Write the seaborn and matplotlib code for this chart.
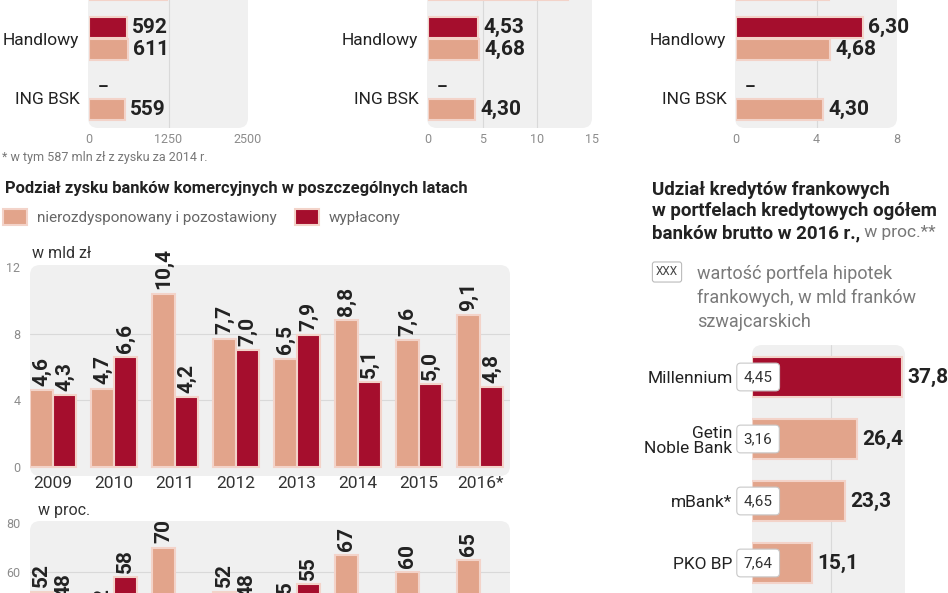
import numpy as np
import pandas as pd
import matplotlib
matplotlib.use("Agg")
import matplotlib.pyplot as plt
from matplotlib import font_manager
from matplotlib.patches import FancyBboxPatch
from matplotlib.text import Annotation
import seaborn as sns

# --- Configuration ---
W, H = 948, 593
DARK = "#a50e2d"
LIGHT = "#e2a48b"
EDGE = "#f3d3c9"
BG = "#f0f0f0"
GRID = "#d9d9d9"
TXT = "#222222"
GRAY = "#8c8c8c"

names = {f.name for f in font_manager.fontManager.ttflist}
BASE = "Roboto" if "Roboto" in names else "DejaVu Sans"

# --- Data ---
# top row: first bank is cut off by the top edge of the picture
top_banks = ["…", "Handlowy", "ING BSK"]
p1_dark = [np.nan, 592, np.nan]
p1_light = [1230, 611, 559]
p2_dark = [np.nan, 4.53, np.nan]
p2_light = [12.8, 4.68, 4.30]
p3_dark = [np.nan, 6.30, np.nan]
p3_light = [4.6, 4.68, 4.30]

years = ["2009", "2010", "2011", "2012", "2013", "2014", "2015", "2016*"]
kept_bn = [4.6, 4.7, 10.4, 7.7, 6.5, 8.8, 7.6, 9.1]
paid_bn = [4.3, 6.6, 4.2, 7.0, 7.9, 5.1, 5.0, 4.8]
kept_pct = [52, 42, 70, 52, 45, 67, 60, 65]
paid_pct = [48, 58, 30, 48, 55, 33, 40, 35]
series = ["nierozdysponowany i pozostawiony", "wypłacony"]

chf_banks = ["Millennium", "Getin\nNoble Bank", "mBank*", "PKO BP"]
chf_share = [37.8, 26.4, 23.3, 15.1]
chf_value = [4.45, 3.16, 4.65, 7.64]

sns.set_theme(style="white")
plt.rcParams["font.family"] = [BASE, "DejaVu Sans"]

fig = plt.figure(figsize=(W / 100, H / 100), dpi=100)
fig.patch.set_facecolor("white")


def px_axes(l, t, r, b):
    ax = fig.add_axes([l / W, 1 - b / H, (r - l) / W, (b - t) / H])
    ax.set_facecolor("none")
    return ax


def px_bg(l, t, r, b, rs=0.1):
    bg = FancyBboxPatch((l / 100, (H - b) / 100), (r - l) / 100, (b - t) / 100,
                        boxstyle=f"round,pad=0,rounding_size={rs}",
                        transform=fig.dpi_scale_trans, fc=BG, ec="none", zorder=-5)
    fig.add_artist(bg)


def px_text(x, y, s, **kw):
    return fig.text(x / W, 1 - y / H, s, **kw)


def comma(v, d):
    return f"{v:.{d}f}".replace(".", ",")


# --- Top row: three small horizontal bar panels ---
def top_panel(l, r, dark, light, xmax, ticks, dec):
    t, b = -10, 128
    px_bg(l - 1, -30, r, b)
    ax = px_axes(l, t, r, b)
    df = pd.DataFrame({"bank": top_banks * 2,
                       "seria": ["a"] * 3 + ["b"] * 3,
                       "value": dark + light})
    sns.barplot(data=df, y="bank", x="value", hue="seria", hue_order=["a", "b"],
                palette=[DARK, LIGHT], saturation=1, orient="h", width=0.72, ax=ax,
                legend=False, edgecolor=EDGE, linewidth=1.5)
    ax.set_xlim(0, xmax)
    ax.set_ylim(1 + (b - 38.5) / 60, 1 + (t - 38.5) / 60)
    for v in ticks[1:-1]:
        ax.axvline(v, color=GRID, lw=0.8, zorder=0)
    ax.set_xticks(ticks)
    ax.set_xticklabels([str(v) for v in ticks])
    ax.tick_params(axis="x", length=0, pad=3.5, labelsize=9, labelcolor=GRAY)
    ax.tick_params(axis="y", length=0, pad=7, labelsize=12.5, labelcolor=TXT)
    ax.set_xlabel("")
    ax.set_ylabel("")
    sns.despine(ax=ax, left=True, bottom=True)
    for cont in ax.containers:
        for bar in cont:
            w = bar.get_width()
            if not np.isfinite(w):
                continue
            ax.annotate(comma(w, dec), (w, bar.get_y() + bar.get_height() / 2),
                        xytext=(4, 0), textcoords="offset points", va="center",
                        ha="left", fontsize=15, fontweight="bold", color=TXT,
                        annotation_clip=False)
    # missing values shown as a dash
    for i, v in enumerate(dark):
        if i > 0 and not np.isfinite(v):
            ax.annotate("–", (0, i - 0.18), xytext=(6, 0), textcoords="offset points",
                        va="center", ha="left", fontsize=12, fontweight="bold", color=TXT)
    return ax


top_panel(89, 248, p1_dark, p1_light, 2500, [0, 1250, 2500], 0)
top_panel(428, 592, p2_dark, p2_light, 15, [0, 5, 10, 15], 2)
top_panel(736, 897, p3_dark, p3_light, 8, [0, 4, 8], 2)
px_text(2, 158, "* w tym 587 mln zł z zysku za 2014 r.", fontsize=9,
        color="#777777", va="center", ha="left")

# --- Middle: profit split, bn PLN ---
px_text(5, 189, "Podział zysku banków komercyjnych w poszczególnych latach",
        fontweight="bold", fontsize=11.9, color=TXT, va="center", ha="left")


def year_panel(t, b, kept, paid, y0px, ppu, ticks, dec, show_years):
    px_bg(30, t, 510, b + 6)
    ax = px_axes(30, t, 510, b)
    df = pd.DataFrame({"rok": years * 2,
                       "seria": [series[0]] * 8 + [series[1]] * 8,
                       "value": kept + paid})
    sns.barplot(data=df, x="rok", y="value", hue="seria", hue_order=series,
                palette=[LIGHT, DARK], saturation=1, width=0.75, ax=ax,
                edgecolor=EDGE, linewidth=1.5)
    ax.set_xlim((30 - 53) / 61, (510 - 53) / 61)
    ax.set_ylim(-(b - y0px) / ppu, (y0px - t) / ppu)
    for v in ticks[1:-1]:
        ax.axhline(v, color=GRID, lw=0.8, zorder=0)
    ax.set_yticks(ticks)
    ax.set_yticklabels([str(v) for v in ticks])
    ax.tick_params(axis="y", length=0, pad=7, labelsize=9, labelcolor=GRAY)
    ax.tick_params(axis="x", length=0, pad=4, labelsize=12.5, labelcolor="#333333")
    if not show_years:
        ax.set_xticklabels([])
    ax.set_xlabel("")
    ax.set_ylabel("")
    sns.despine(ax=ax, left=True, bottom=True)
    for cont in ax.containers:
        for bar in cont:
            h = bar.get_height()
            ax.annotate(comma(h, dec), (bar.get_x() + bar.get_width() / 2, h),
                        xytext=(0, 3), textcoords="offset points", rotation=90,
                        va="bottom", ha="center", fontsize=15, fontweight="bold",
                        color=TXT, annotation_clip=False)
    return ax


ax_bn = year_panel(265, 470, kept_bn, paid_bn, 467, 200 / 12, [0, 4, 8, 12], 1, True)
handles, labels = ax_bn.get_legend_handles_labels()
ax_bn.legend(handles, labels, loc="center left", bbox_to_anchor=(3 / W, 1 - 217 / H),
             bbox_transform=fig.transFigure, ncol=2, frameon=False, fontsize=11,
             handlelength=1.6, handleheight=1.2, handletextpad=0.6,
             columnspacing=1.2, borderaxespad=0, borderpad=0, labelcolor="#666666")
px_text(32, 253, "w mld zł", fontsize=11.5, color="#333333", va="center", ha="left")

ax_pct = year_panel(521, 730, kept_pct, paid_pct, 719, 49 / 20, [0, 20, 40, 60, 80], 0, False)
ax_pct.get_legend().remove()
px_text(38, 510, "w proc.", fontsize=11.5, color="#333333", va="center", ha="left")

# --- Right: CHF loans share ---
title_lines = ["Udział kredytów frankowych", "w portfelach kredytowych ogółem",
               "banków brutto w 2016 r.,"]
for s, y in zip(title_lines, [190, 211, 233]):
    last = px_text(652, y, s, fontsize=13.5, fontweight="bold", color=TXT,
                   va="center", ha="left")
fig.add_artist(Annotation(" w proc.**", xy=(1, 0.5), xycoords=last, va="center",
                          ha="left", fontsize=12.5, color="#777777"))

px_text(667, 272, "XXX", fontsize=8.5, color="#444444", ha="center", va="center",
        bbox=dict(boxstyle="round,pad=0.3,rounding_size=0.2", fc="white",
                  ec="#bbbbbb", lw=0.8))
legend_lines = ["wartość portfela hipotek", "frankowych, w mld franków", "szwajcarskich"]
for s, y in zip(legend_lines, [274, 298, 322]):
    px_text(697, y, s, fontsize=13, color="#7a7a7a", va="center", ha="left")

px_bg(752, 345, 905, 640)
ax_chf = px_axes(752, 345, 905, 600)
df_chf = pd.DataFrame({"bank": chf_banks, "value": chf_share})
sns.barplot(data=df_chf, y="bank", x="value", hue="bank", orient="h", width=0.65,
            palette=[DARK] + [LIGHT] * 3, saturation=1, legend=False, ax=ax_chf,
            edgecolor=EDGE, linewidth=1.5)
ax_chf.set_xlim(0, 153 / 3.97)
ax_chf.set_ylim((600 - 377) / 62, (345 - 377) / 62)
ax_chf.axvline(20, color=GRID, lw=0.8, zorder=0)
ax_chf.set_xticks([])
ax_chf.tick_params(axis="y", length=0, pad=14, labelsize=12.5, labelcolor=TXT)
for lab in ax_chf.get_yticklabels():
    lab.set_linespacing(1.05)
ax_chf.set_xlabel("")
ax_chf.set_ylabel("")
sns.despine(ax=ax_chf, left=True, bottom=True)
for i, bar in enumerate(ax_chf.patches):
    w = bar.get_width()
    yc = bar.get_y() + bar.get_height() / 2
    ax_chf.annotate(comma(w, 1), (w, yc), xytext=(4, 0), textcoords="offset points",
                    va="center", ha="left", fontsize=15, fontweight="bold", color=TXT,
                    annotation_clip=False)
    ax_chf.annotate(comma(chf_value[i], 2), (0, yc), xytext=(-6, 0),
                    textcoords="offset points", va="center", ha="left", fontsize=11,
                    color="#333333", annotation_clip=False,
                    bbox=dict(boxstyle="round,pad=0.45,rounding_size=0.25",
                              fc="white", ec="#c8c8c8", lw=0.8))

fig.savefig("out.png", dpi=100, facecolor="white")
